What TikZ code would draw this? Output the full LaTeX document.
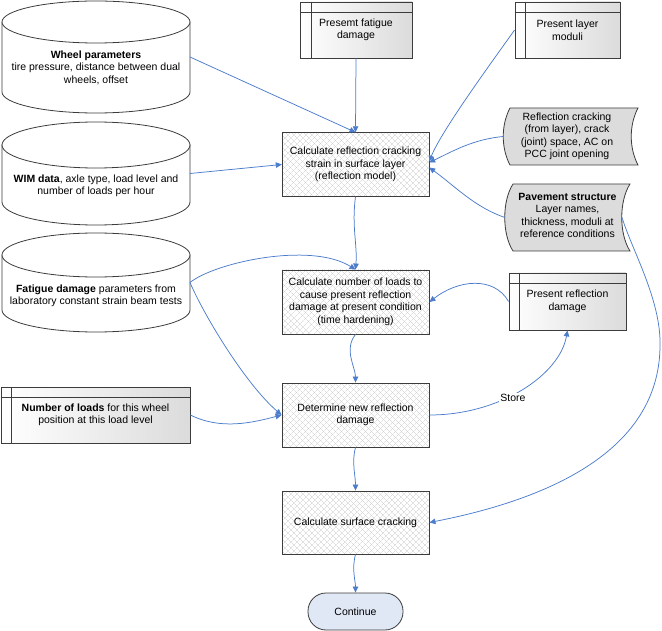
\documentclass[tikz,border=0pt]{standalone}
\usepackage{fontspec}
\setmainfont{Liberation Sans}
\usetikzlibrary{patterns.meta,arrows.meta}
\definecolor{linkblue}{RGB}{76,124,204}
\definecolor{edgegray}{RGB}{60,60,60}
\definecolor{datafill}{RGB}{220,220,220}
\definecolor{contfill}{RGB}{225,232,245}
\definecolor{hatchgray}{RGB}{205,205,205}

% cylinder: #1 left x, #2 right x, #3 top y, #4 bottom y, #5 ellipse y radius
\newcommand{\mycyl}[5]{%
  \pgfmathsetmacro\cyX{(#1+#2)/2}%
  \pgfmathsetmacro\cyR{(#2-#1)/2}%
  \pgfmathsetmacro\cyT{#3+#5}%
  \pgfmathsetmacro\cyB{#4-#5}%
  \pgfmathsetmacro\cyKx{0.5523*\cyR}%
  \pgfmathsetmacro\cyKy{0.5523*#5}%
  \draw[cylline] (#1,\cyT) -- (#1,\cyB) .. controls +(0,\cyKy) and +(-\cyKx,0) .. (\cyX,#4)
     .. controls +(\cyKx,0) and +(0,\cyKy) .. (#2,\cyB) -- (#2,\cyT) -- cycle;
  \draw[cylline] (\cyX,\cyT) ellipse [x radius=\cyR, y radius=#5];
}

\begin{document}
\begin{tikzpicture}[x=1pt,y=-1pt,
  txt/.style={font=\fontsize{10.5}{12.5}\selectfont, align=center, inner sep=0pt},
  area/.style={inner sep=0pt, outer sep=0pt, draw=none},
  cylline/.style={draw=edgegray, line width=0.8pt, fill=white},
  procbox/.style={draw=edgegray, line width=0.9pt, minimum width=147pt, minimum height=64pt,
    inner sep=0pt, txt,
    preaction={fill=white},
    preaction={pattern={Lines[angle=45,distance=4pt,line width=0.4pt]}, pattern color=hatchgray},
    pattern={Lines[angle=-45,distance=4pt,line width=0.4pt]}, pattern color=hatchgray},
  storebox/.style={draw=edgegray, line width=0.8pt, inner sep=0pt, txt,
    left color=white, right color=gray!28},
  datashape/.style={draw=edgegray, line width=0.8pt, fill=datafill},
  link/.style={draw=linkblue, line width=0.75pt, -{Triangle[length=6pt,width=5.5pt]}}
]
\useasboundingbox (0,0) rectangle (662,631);

% ---- cylinders
\mycyl{2}{190}{1}{113}{21}
\node[area, minimum width=188pt, minimum height=112pt] (wheel) at (96,57) {};
\node[txt] (wheel-t) at (96,67.5) {\textbf{Wheel parameters}\\tire pressure, distance between dual\\wheels, offset};

\mycyl{2}{190}{122}{225}{23}
\node[area, minimum width=188pt, minimum height=103pt] (wim) at (96,173.5) {};
\node[txt] (wim-t) at (96,186) {\textbf{WIM data}, axle type, load level and\\number of loads per hour};

\mycyl{2}{190}{233}{332}{22}
\node[area, minimum width=188pt, minimum height=99pt] (fat) at (96,282.5) {};
\node[txt] (fat-t) at (96,296) {\textbf{Fatigue damage} parameters from\\laboratory constant strain beam tests};

% ---- storage boxes
\node[storebox, minimum width=112pt, minimum height=56pt] (pfd) at (356,30) {Presemt fatigue\\damage};
\draw[edgegray, line width=0.8pt] ([yshift=-11pt]pfd.north west) -- ([yshift=-11pt]pfd.north east);
\draw[edgegray, line width=0.8pt] ([xshift=12pt]pfd.north west) -- ([xshift=12pt]pfd.south west);

\node[storebox, minimum width=105pt, minimum height=56pt] (plm) at (567.5,30) {Present layer\\moduli};
\draw[edgegray, line width=0.8pt] ([yshift=-11pt]plm.north west) -- ([yshift=-11pt]plm.north east);
\draw[edgegray, line width=0.8pt] ([xshift=11pt]plm.north west) -- ([xshift=11pt]plm.south west);

\node[storebox, minimum width=117pt, minimum height=57pt] (prd) at (567.5,301.5) {Present reflection\\damage};
\draw[edgegray, line width=0.8pt] ([yshift=-11pt]prd.north west) -- ([yshift=-11pt]prd.north east);
\draw[edgegray, line width=0.8pt] ([xshift=11pt]prd.north west) -- ([xshift=11pt]prd.south west);

\node[storebox, minimum width=189pt, minimum height=56pt] (nol) at (95.5,415) {\textbf{Number of loads} for this wheel\\position at this load level};
\draw[edgegray, line width=0.8pt] ([yshift=-11pt]nol.north west) -- ([yshift=-11pt]nol.north east);
\draw[edgegray, line width=0.8pt] ([xshift=11pt]nol.north west) -- ([xshift=11pt]nol.south west);

% ---- data shapes
\draw[datashape] (510,108) -- (638,108) .. controls (629,125) and (629,148) .. (638,165)
   -- (510,165) .. controls (501,148) and (501,125) .. (510,108) -- cycle;
\node[area, minimum width=128pt, minimum height=57pt, txt] (rc) at (567,136.5)
   {Reflection cracking\\(from layer), crack\\(joint) space, AC on\\PCC joint opening};

\draw[datashape] (513,184) -- (630,184) .. controls (619,201) and (619,234) .. (630,251)
   -- (513,251) .. controls (502,234) and (502,201) .. (513,184) -- cycle;
\node[area, minimum width=117pt, minimum height=67pt] (ps) at (563.5,217.5) {};
\node[txt] (ps-t) at (567.5,215.5) {\textbf{Pavement structure}\\Layer names,\\thickness, moduli at\\reference conditions};

% ---- process boxes
\node[procbox] (b1) at (355.5,164.5) {Calculate reflection cracking\\strain in surface layer\\(reflection model)};
\node[procbox] (b2) at (355.5,302) {Calculate number of loads to\\cause present reflection\\damage at present condition\\(time hardening)};
\node[procbox] (b3) at (355.5,415) {Determine new reflection\\damage};
\node[procbox, minimum height=63pt] (b4) at (355.5,522.5) {Calculate surface cracking};

\node[draw=edgegray, line width=0.8pt, fill=contfill, minimum width=95pt, minimum height=37pt,
  rounded corners=18pt, txt] (cont) at (355.5,611.5) {Continue};

% ---- connectors
\coordinate (bendR) at (660,345);
\draw[link] (wheel.east) -- (b1.north);
\draw[link] (pfd.south) -- (b1.north);
\draw[link] (plm.west) .. controls +(-25,35) and +(12,-30) .. ([yshift=3pt]b1.east);
\draw[link] (rc.west) .. controls +(-30,3) and +(25,-12) .. ([yshift=2pt]b1.east);
\draw[link] (ps.west) .. controls +(-30,-10) and +(25,18) .. ([yshift=-3pt]b1.east);
\draw[link] (ps.east) .. controls (632,250) and (661,300) .. (bendR)
   .. controls (660,440) and (570,495) .. (b4.east);
\draw[link] (wim.east) -- (b1.west);
\draw[link] (b1.south) .. controls +(-4,30) and +(2,-25) .. (b2.north);
\draw[link] (fat.east) .. controls +(25,-20) and +(-45,-28) .. (b2.north);
\draw[link] (prd.west) .. controls +(-15,-26) and +(28,-22) .. (b2.east);
\draw[link] (b2.south) .. controls +(-12,15) and +(0,-15) .. (b3.north);
\draw[link] (b3.east) .. controls +(70,0) and +(-8,45) .. (prd.south);
\draw[link] (nol.east) .. controls +(30,15) and +(-30,8) .. (b3.west);
\draw[link] (fat.east) .. controls +(15,35) and +(-35,-30) .. (b3.west);
\draw[link] (b3.south) .. controls +(-4,15) and +(0,-15) .. (b4.north);
\draw[link] (b4.south) .. controls +(-4,15) and +(0,-12) .. (cont.north);

\node[txt, fill=white, inner sep=1pt] (store) at (513,398) {Store};
\end{tikzpicture}
\end{document}
